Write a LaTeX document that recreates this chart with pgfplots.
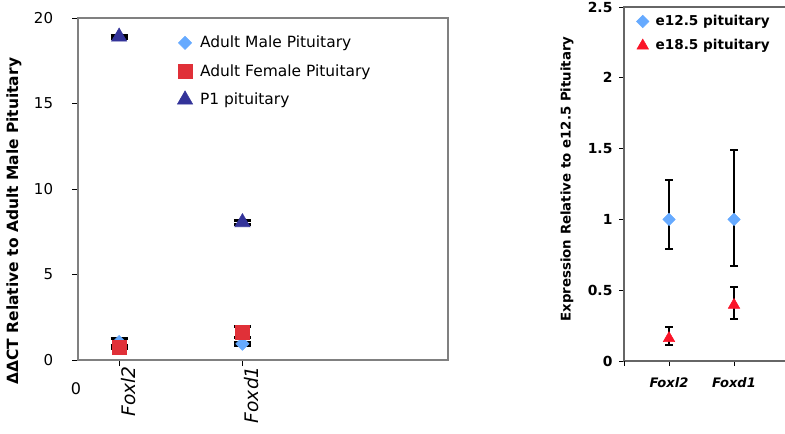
\documentclass[border=0pt]{standalone}
\usepackage{pgfplots}
\pgfplotsset{compat=1.18}
\usepackage{fontspec}
\setmainfont{DejaVu Sans}
\definecolor{mblue}{RGB}{102,170,255}
\definecolor{mred}{RGB}{224,48,56}
\definecolor{mdark}{RGB}{51,51,153}
\definecolor{bred}{RGB}{250,20,40}
\definecolor{framegray}{RGB}{128,128,128}
\begin{document}
\begin{tikzpicture}
\useasboundingbox (0,0) rectangle (588.75pt,324.75pt);
% ---------------- left panel ----------------
\begin{axis}[
  at={(58.5pt,54.75pt)}, anchor=south west,
  scale only axis, width=277.5pt, height=256.5pt,
  xmin=0, xmax=9, ymin=0, ymax=20,
  clip=false,
  axis line style={draw=framegray, line width=1.9pt},
  xtick={1,4}, xticklabels={Foxl2,Foxd1},
  ytick={0,5,10,15,20},
  xtick pos=bottom, ytick pos=left,
  tick align=outside, major tick length=4.5pt,
  tick style={black, line width=0.6pt},
  /pgf/number format/assume math mode=true,
  yticklabel style={font=\fontsize{11.25pt}{13pt}\selectfont, inner sep=0pt, xshift=-14pt},
  xticklabel style={font=\fontsize{14pt}{16pt}\selectfont\itshape, rotate=90, anchor=east, inner sep=0pt, yshift=-7pt},
  ylabel={ΔΔCT Relative to Adult Male Pituitary},
  every axis y label/.style={at={(axis description cs:-0.173,0.406)}, rotate=90, anchor=center,
     font=\fontsize{11.6pt}{13pt}\selectfont\bfseries},
  legend style={at={(axis description cs:0.268,0.956)}, anchor=north west, draw=none, fill=none,
     font=\fontsize{11.6pt}{13pt}\selectfont, row sep=7pt, column sep=3.5pt, inner sep=0pt},
  legend cell align=left,
  error bars/y dir=both, error bars/y explicit,
  error bars/error bar style={black, line width=2.2pt},
  error bars/error mark options={black, rotate=90, mark size=6.4pt, line width=2.2pt},
]
\addplot[only marks, mark=square*, mark size=3.5pt, mark options={rotate=45, fill=mblue, draw=mblue}]
  coordinates {(1,1.05) +- (0,0.2) (4,0.95) +- (0,0.1)};
\addlegendentry{Adult Male Pituitary}
\addplot[only marks, mark=square*, mark size=5.2pt, mark options={fill=mred, draw=mred}]
  coordinates {(1,0.75) +- (0,0.1) (4,1.6) += (0,0.38) -= (0,0.28)};
\addlegendentry{Adult Female Pituitary}
\addplot[only marks, mark=triangle*, mark size=6.6pt, mark options={fill=mdark, draw=mdark}]
  coordinates {(1,18.9) +- (0,0.1) (4,8.05) +- (0,0.12)};
\addlegendentry{P1 pituitary}
\node[anchor=north, font=\fontsize{12pt}{14pt}\selectfont, inner sep=0pt] at (axis cs:0,0) [yshift=-17pt, xshift=-1.5pt] {0};
\end{axis}
% ---------------- right panel ----------------
\begin{axis}[
  at={(468pt,54pt)}, anchor=south west,
  scale only axis, width=131.25pt, height=265.5pt,
  xmin=0.3077, xmax=3, ymin=0, ymax=2.5,
  clip=false,
  axis line style={draw=framegray!80!black, line width=1.5pt},
  xtick={1,2}, xticklabels={Foxl2,Foxd1},
  extra x ticks={0.3077}, extra x tick labels={},
  ytick={0,0.5,1,1.5,2,2.5}, yticklabels={0,0.5,1,1.5,2,2.5},
  xtick pos=bottom, ytick pos=left,
  tick align=outside, major tick length=3.5pt,
  tick style={black, line width=0.6pt},
  yticklabel style={font=\fontsize{10.4pt}{12pt}\selectfont\bfseries, inner sep=0pt, xshift=-5pt},
  xticklabel style={font=\fontsize{9.8pt}{12pt}\selectfont\bfseries\itshape, inner sep=0pt, yshift=-9pt},
  ylabel={Expression Relative to e12.5 Pituitary},
  every axis y label/.style={at={(axis description cs:-0.326,0.514)}, rotate=90, anchor=center,
     font=\fontsize{10pt}{12pt}\selectfont\bfseries},
  legend style={at={(axis description cs:0.07,0.985)}, anchor=north west, draw=none, fill=none,
     font=\fontsize{10.2pt}{12pt}\selectfont\bfseries, row sep=5pt, column sep=3pt, inner sep=0pt},
  legend cell align=left,
  error bars/y dir=both, error bars/y explicit,
  error bars/error bar style={black, line width=1.7pt},
  error bars/error mark options={black, rotate=90, mark size=3pt, line width=1.5pt},
]
\addplot[only marks, mark=square*, mark size=3.3pt, mark options={rotate=45, fill=mblue, draw=mblue}]
  coordinates {(1,1.0) += (0,0.28) -= (0,0.21) (2,1.0) += (0,0.49) -= (0,0.33)};
\addlegendentry{e12.5 pituitary}
\addplot[only marks, mark=triangle*, mark size=5pt, mark options={fill=bred, draw=bred}]
  coordinates {(1,0.16) += (0,0.08) -= (0,0.05) (2,0.395) += (0,0.125) -= (0,0.095)};
\addlegendentry{e18.5 pituitary}
\end{axis}
\end{tikzpicture}
\end{document}
